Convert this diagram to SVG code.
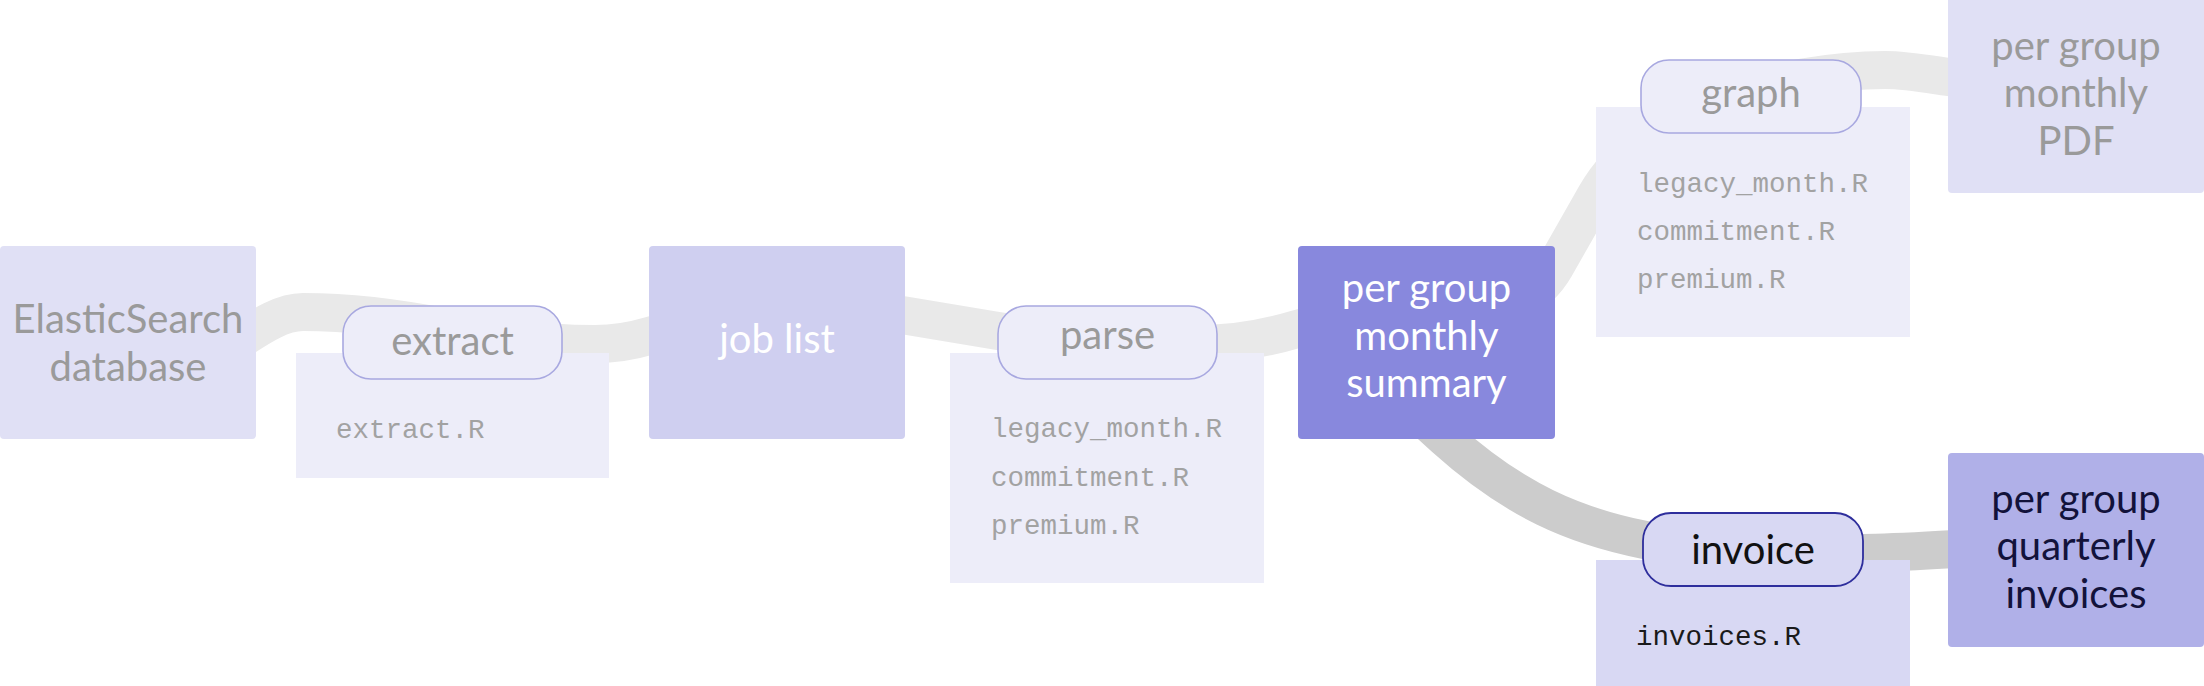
<svg xmlns="http://www.w3.org/2000/svg" width="2204" height="686" viewBox="0 0 2204 686">
<style>
.band{fill:none;stroke-width:38;stroke-linecap:butt;stroke-linejoin:round}
.faded{stroke:#e9e9e9}
.hi{stroke:#cccccc}
.lbl{font-family:Lato,'Liberation Sans',sans-serif;font-size:40px;text-anchor:middle}
.mono{font-family:'Liberation Mono','Courier New',monospace;font-size:27.5px}
.node-faded{fill:#e0e0f5}
.txt-faded{fill:#9a9a9a}
.script-faded{fill:#ededf9}
.pill-faded{fill:#ededf9;stroke:#a8a8e0;stroke-width:1.6}
.script-hi{fill:#d8d8f3}
.pill-hi{fill:#d8d8f3;stroke:#2e2e9c;stroke-width:1.8}
.mono-faded{fill:#a2a2a2}
</style>
<g id="connectors">
<path class="band faded" d="M 220,352 C 247.7,336.2 275.3,312 303,312 C 351.7,312 400.3,318.3 449,328 C 497.7,337.7 546.3,344 595,344 C 613,344 631,341.4 649,336 C 709,318 770,310 830,310 C 855,310 880,311.3 905,315.5 L 998,331 C 1065,342.2 1133,344 1200,344 C 1232,344 1265,338.6 1297,329 C 1383,303.2 1510,345.75 1555,267 L 1596,195 C 1645.6,108.2 1785,70 1885,70 C 1906,70 1927,73.9 1948,77 L 2010,86"/>
<path class="band hi" d="M 1400,397 L 1445,438 C 1515,501 1575,526 1645,540 C 1720,555 1800,553 1862,553 C 1900,553 1930,550 2010,546"/>
</g>
<g id="node-elasticsearch">
<rect class="node-faded" x="0" y="246" width="256" height="193" rx="4"/>
<text class="lbl txt-faded" x="128" y="333">ElasticSearch</text>
<text class="lbl txt-faded" x="128" y="381">database</text>
</g>
<g id="node-extract">
<rect class="script-faded" x="296" y="353" width="313" height="125"/>
<rect class="pill-faded" x="343" y="306" width="219" height="73" rx="28"/>
<text class="lbl txt-faded" x="452.5" y="355">extract</text>
<text class="mono mono-faded" x="336" y="438">extract.R</text>
</g>
<g id="node-joblist">
<rect fill="#cfcff0" x="649" y="246" width="256" height="193" rx="4"/>
<text class="lbl" fill="#ffffff" x="777" y="353">job list</text>
</g>
<g id="node-parse">
<rect class="script-faded" x="950" y="353" width="314" height="230"/>
<rect class="pill-faded" x="998" y="306" width="219" height="73" rx="28"/>
<text class="lbl txt-faded" x="1107.5" y="348.5">parse</text>
<text class="mono mono-faded" x="991" y="437">legacy_month.R</text>
<text class="mono mono-faded" x="991" y="486">commitment.R</text>
<text class="mono mono-faded" x="991" y="534">premium.R</text>
</g>
<g id="node-summary">
<rect fill="#8888dd" x="1298" y="246" width="257" height="193" rx="4"/>
<text class="lbl" fill="#ffffff" x="1426.5" y="302">per group</text>
<text class="lbl" fill="#ffffff" x="1426.5" y="349.5">monthly</text>
<text class="lbl" fill="#ffffff" x="1426.5" y="397">summary</text>
</g>
<g id="node-graph">
<rect class="script-faded" x="1596" y="107" width="314" height="230"/>
<rect class="pill-faded" x="1641" y="60" width="220" height="73" rx="28"/>
<text class="lbl txt-faded" x="1751" y="107">graph</text>
<text class="mono mono-faded" x="1637" y="192">legacy_month.R</text>
<text class="mono mono-faded" x="1637" y="240">commitment.R</text>
<text class="mono mono-faded" x="1637" y="288">premium.R</text>
</g>
<g id="node-pdf">
<rect class="node-faded" x="1948" y="-6" width="256" height="199" rx="4"/>
<text class="lbl txt-faded" x="2076" y="60">per group</text>
<text class="lbl txt-faded" x="2076" y="107">monthly</text>
<text class="lbl txt-faded" x="2076" y="155">PDF</text>
</g>
<g id="node-invoice">
<rect class="script-hi" x="1596" y="560" width="314" height="130"/>
<rect class="pill-hi" x="1643" y="513" width="220" height="73" rx="28"/>
<text class="lbl" fill="#111111" x="1753" y="563.5">invoice</text>
<text class="mono" fill="#1a1a1a" x="1636" y="645">invoices.R</text>
</g>
<g id="node-invoices">
<rect fill="#b0b0e8" x="1948" y="453" width="256" height="194" rx="4"/>
<text class="lbl" fill="#12123a" x="2076" y="512.5">per group</text>
<text class="lbl" fill="#12123a" x="2076" y="560">quarterly</text>
<text class="lbl" fill="#12123a" x="2076" y="607.5">invoices</text>
</g>
</svg>
